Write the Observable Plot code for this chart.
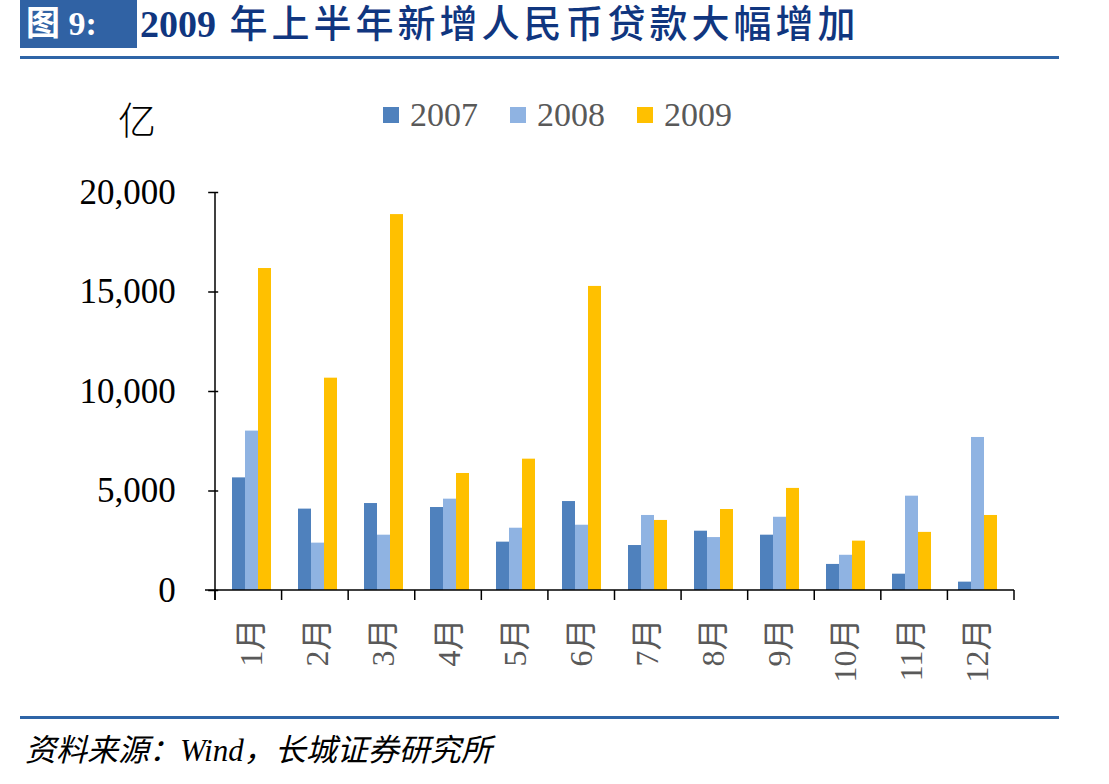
<!DOCTYPE html>
<html><head><meta charset="utf-8">
<script src="https://cdn.jsdelivr.net/npm/d3@7"></script>
<script src="https://cdn.jsdelivr.net/npm/@observablehq/plot@0.6"></script>
<style>
body{margin:0;background:#fff;}
#wrap{position:relative;width:1109px;height:784px;overflow:hidden;font-family:"Liberation Serif","Noto Sans CJK SC",serif;}
#tbox{position:absolute;left:20px;top:0;width:117px;height:48px;background:#3062A4;color:#fff;font-weight:bold;font-size:34px;line-height:48px;box-sizing:border-box;padding-left:6px;white-space:nowrap;font-family:"Liberation Serif","Noto Sans CJK SC",serif;}
#title{position:absolute;left:140px;top:0;height:48px;line-height:48px;color:#10367F;font-weight:500;font-size:38px;white-space:nowrap;letter-spacing:4px;font-family:"Liberation Serif","Noto Sans CJK SC",serif;}
#title b{font-weight:bold;letter-spacing:0;}
#tline{position:absolute;left:20px;top:56px;width:1039px;height:3px;background:#2F65A7;}
#unit{position:absolute;left:118px;top:96px;font-size:38px;line-height:44px;color:#000;font-family:"Noto Sans CJK SC",sans-serif;font-weight:300;}
#legend{position:absolute;left:383px;top:93px;height:44px;display:flex;align-items:center;font-size:34px;color:#595959;}
.li{display:flex;align-items:center;margin-right:32px;}
.sw{width:16px;height:16px;margin-right:11px;}
#chart{position:absolute;left:0;top:150px;}
#bline{position:absolute;left:20px;top:716px;width:1039px;height:3px;background:#2F65A7;}
#source{position:absolute;left:25px;top:731px;font-size:31px;line-height:40px;font-style:italic;color:#000;white-space:nowrap;font-family:"Liberation Serif","Noto Sans CJK SC",serif;}
</style></head><body>
<div id="wrap">
  <div id="tbox">图 9:</div>
  <div id="title"><b>2009</b> 年上半年新增人民币贷款大幅增加</div>
  <div id="tline"></div>
  <div id="unit">亿</div>
  <div id="legend"></div>
  <div id="chart"></div>
  <div id="bline"></div>
  <div id="source">资料来源：Wind，长城证券研究所</div>
</div>
<script>
const months = ["1月","2月","3月","4月","5月","6月","7月","8月","9月","10月","11月","12月"];
const years = ["2007","2008","2009"];
const colors = ["#4F81BD","#8FB3E2","#FFC000"];
const v2007 = [5660, 4090, 4370, 4170, 2430, 4470, 2260, 2980, 2780, 1310, 820, 420];
const v2008 = [8010, 2380, 2780, 4590, 3130, 3280, 3770, 2660, 3680, 1770, 4740, 7690];
const v2009 = [16180, 10670, 18890, 5880, 6600, 15280, 3520, 4070, 5130, 2480, 2920, 3770];
const yTicks = [0, 5000, 10000, 15000, 20000];

const series = [v2007, v2008, v2009];
const data = [];
months.forEach((m, i) => years.forEach((y, j) => data.push({month: m, year: y, value: series[j][i]})));

// legend
const lg = document.getElementById("legend");
years.forEach((y, j) => {
  const it = document.createElement("div"); it.className = "li";
  const sw = document.createElement("div"); sw.className = "sw"; sw.style.background = colors[j];
  const t = document.createElement("span"); t.textContent = y;
  it.appendChild(sw); it.appendChild(t); lg.appendChild(it);
});

const W = 1109, ML = 215, MR = 95;
const padIn = 0.415, padOut = padIn / 2;
const outerOffset = (W - ML - MR) / months.length * padOut; // first facet starts this far right of the frame

const chart = Plot.plot({
  width: W, height: 560,
  marginTop: 42, marginBottom: 120, marginLeft: ML, marginRight: MR,
  style: {fontFamily: "'Liberation Serif', 'Noto Sans CJK SC', serif", background: "transparent", overflow: "visible"},
  fx: {domain: months, paddingInner: padIn, paddingOuter: padOut, label: null},
  x: {domain: years, padding: 0, axis: null},
  y: {domain: [0, 20000], label: null},
  color: {domain: years, range: colors},
  marks: [
    Plot.barY(data, {fx: "month", x: "year", y: "value", fill: "year"}),
    Plot.axisY({ticks: yTicks, tickSize: 10, tickPadding: 33, dx: -outerOffset, tickFormat: d3.format(","), fontSize: 35, color: "#000", strokeWidth: 1.5, label: null}),
    Plot.axisFx({anchor: "bottom", tickSize: 0, tickRotate: -90, tickPadding: 28, fontSize: 32, color: "#595959", label: null})
  ]
});
document.getElementById("chart").appendChild(chart);
d3.select(chart).selectAll("[aria-label='y-axis tick label']").attr("fill", "#595959");

// axis lines and category boundary ticks from the scales
const fx = chart.scale("fx");
const ys = chart.scale("y");
const [r0, r1] = fx.range;
const y0 = ys.range[0], yTop = ys.range[1];
const n = months.length;
const step = (r1 - r0) / n;
const g = d3.select(chart).append("g").attr("stroke", "#000").attr("stroke-width", 1.5);
g.append("line").attr("x1", r0).attr("x2", r0).attr("y1", yTop).attr("y2", y0 + 10);
g.append("line").attr("x1", r0 - 10).attr("x2", r1).attr("y1", y0).attr("y2", y0);
d3.range(n + 1).forEach(i => {
  const x = r0 + i * step;
  g.append("line").attr("x1", x).attr("x2", x).attr("y1", y0).attr("y2", y0 + 10);
});
</script>
</body></html>
